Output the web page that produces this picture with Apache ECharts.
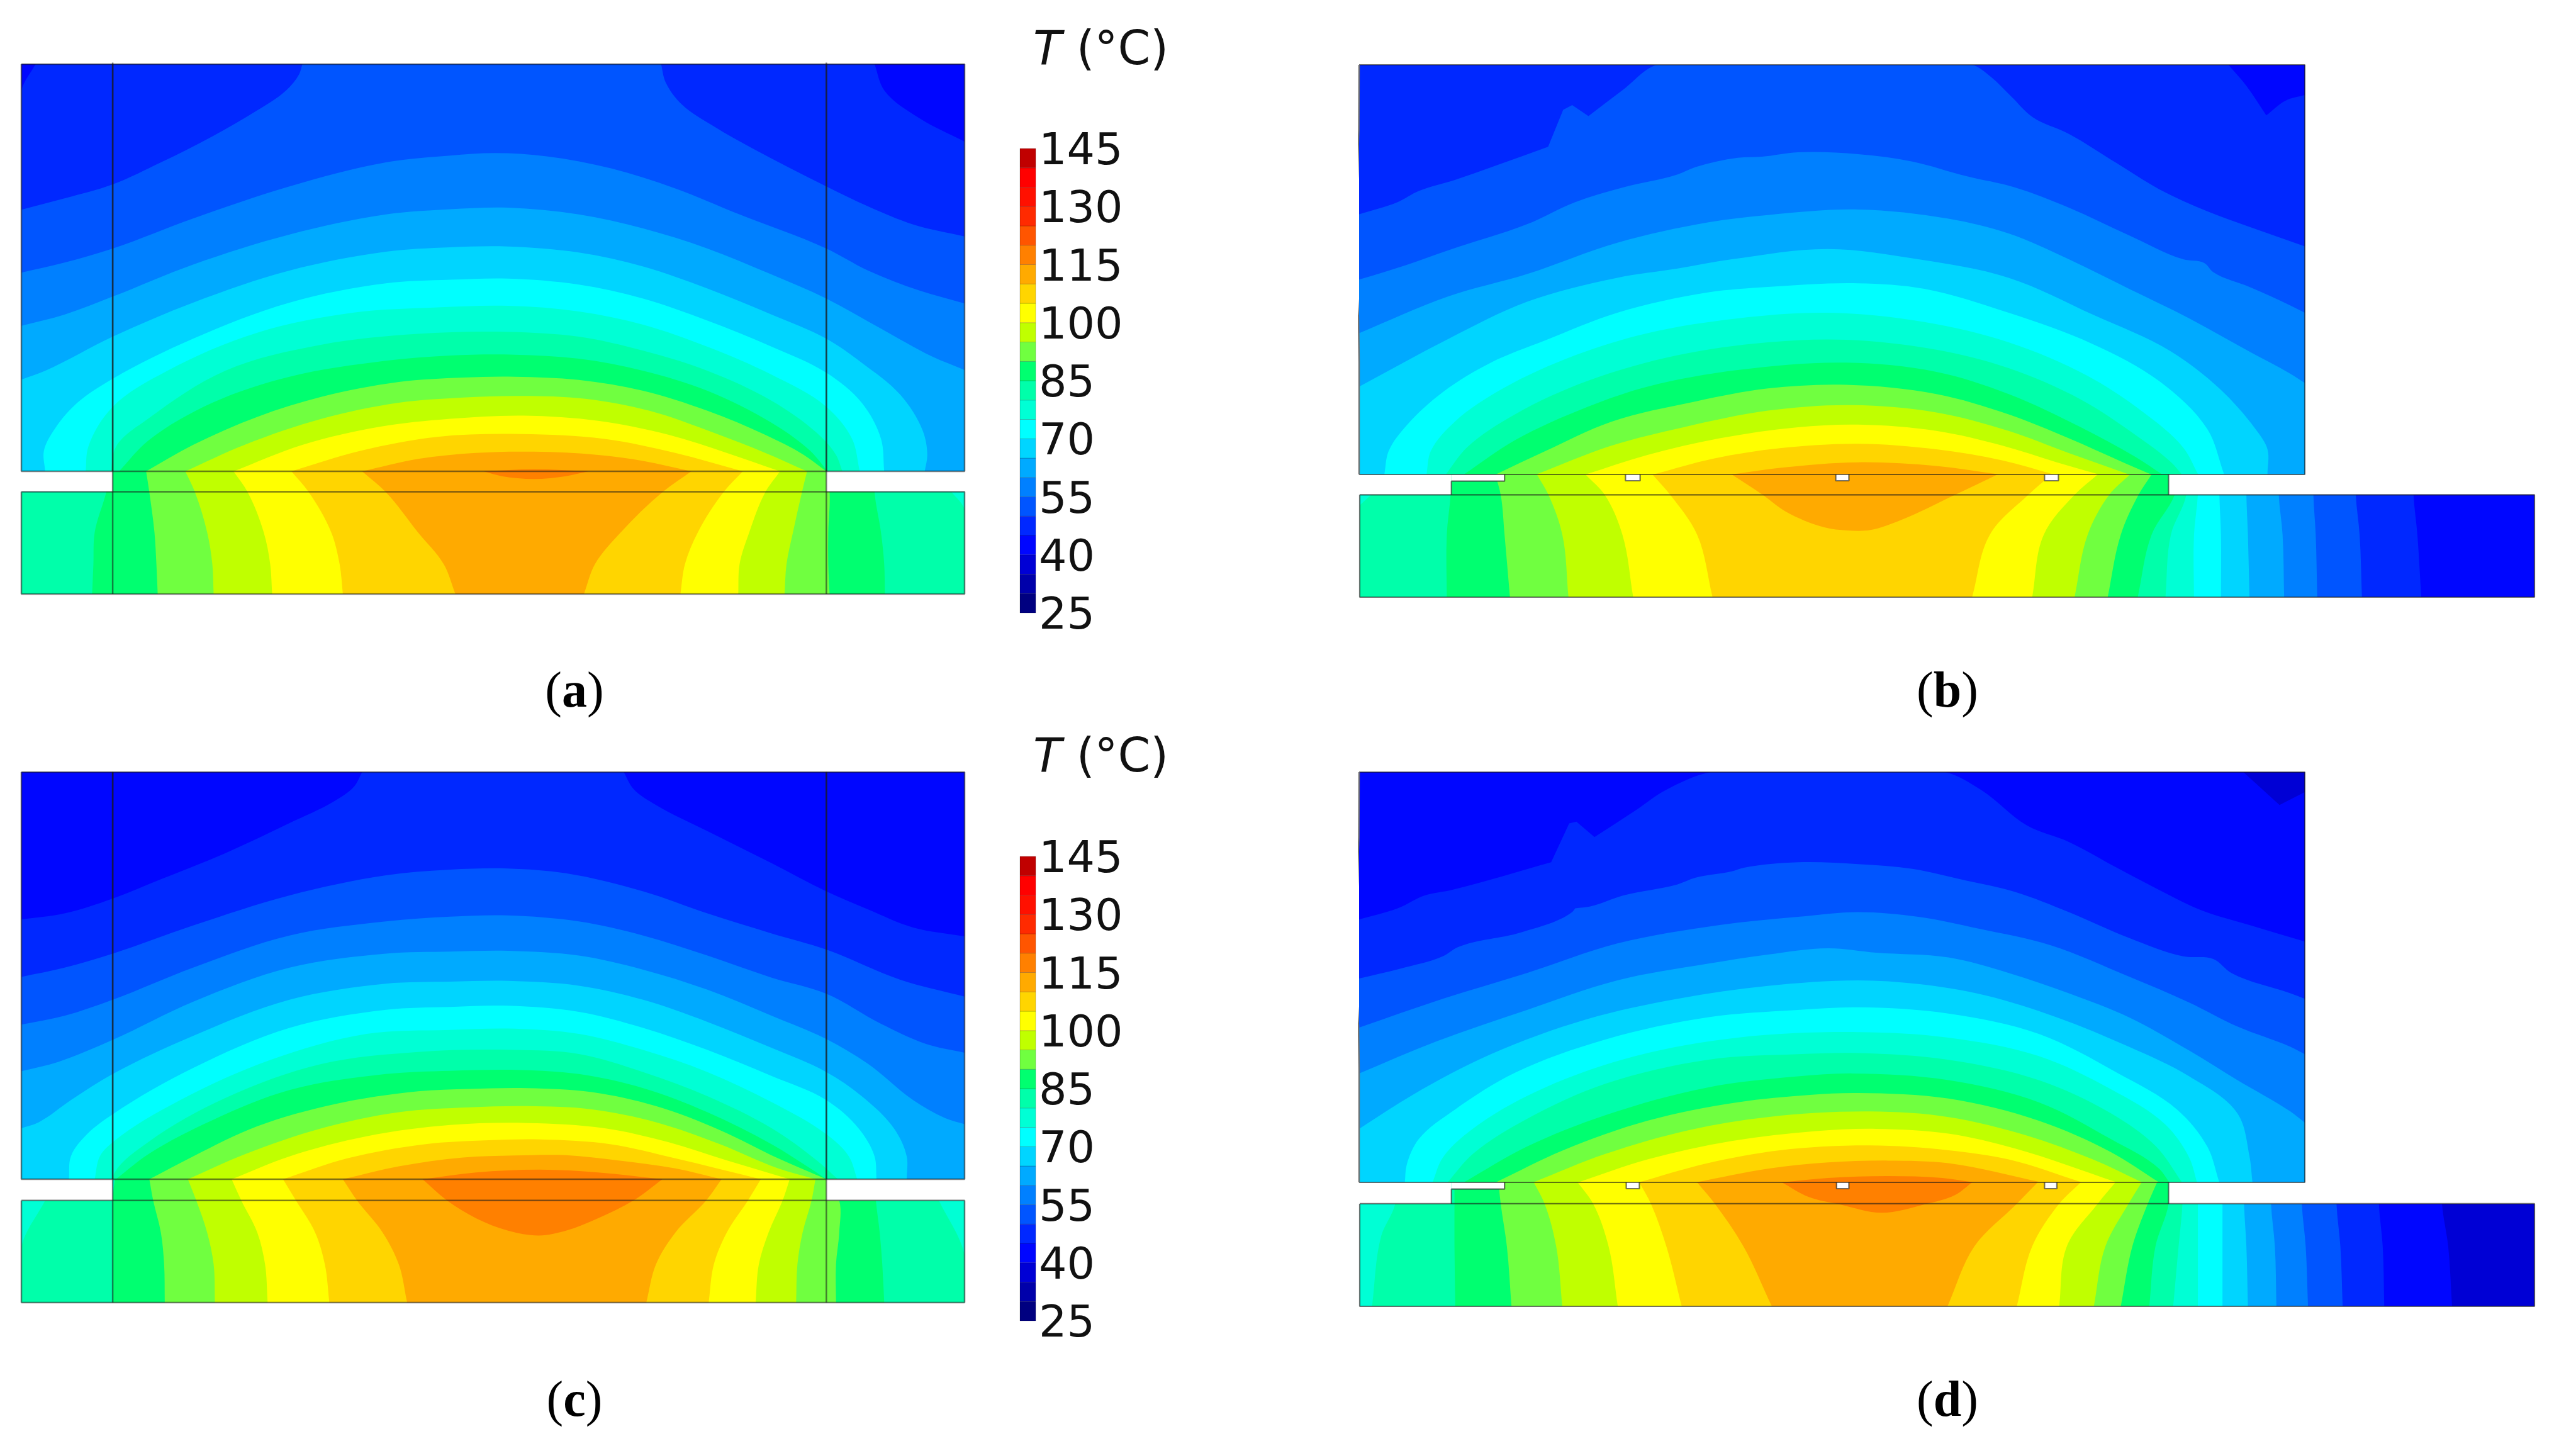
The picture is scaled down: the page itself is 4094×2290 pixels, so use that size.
<!DOCTYPE html>
<html><head><meta charset="utf-8">
<style>html,body{margin:0;padding:0;background:#fff}#c{width:4094px;height:2290px}</style>
<script src="https://cdn.jsdelivr.net/npm/echarts@6/dist/echarts.min.js"></script></head>
<body><div id="c"></div>
<script>
// ---- colour scale (5 degree bands, 25..145) ----
const bandColors=['#000080','#0000aa','#0000d5','#0006ff','#0028ff','#0055ff','#0080ff','#00aaff','#00d5ff','#00ffff','#00ffd5','#00ffaa','#00ff70','#70ff40','#c0ff00','#ffff00','#ffd500','#ffaa00','#ff8000','#ff5500','#ff2a00','#ff1000','#ff0000','#c00000'];
const scaleTicks=[25,40,55,70,85,100,115,130,145];
const panelLabels=['a','b','c','d'];

// ---- isotherms: [temperature, outline points], positions in each panel's own length units ----
const aTop=[
[45,[[33,130],[55,65],[1360,65],[1375,130],[1430,200],[1500,258]]],
[50,[[33,428],[100,400],[175,365],[250,310],[330,245],[400,180],[445,130],[465,90],[470,65],[1028,65],[1035,110],[1060,165],[1110,220],[1170,275],[1285,370],[1350,420],[1420,465],[1500,495]]],
[55,[[33,585],[100,560],[175,525],[300,450],[450,370],[600,310],[700,293],[770,287],[850,295],[950,325],[1050,375],[1150,440],[1285,525],[1350,580],[1430,630],[1500,662]]],
[60,[[33,718],[100,690],[175,645],[300,565],[450,490],[600,440],[700,427],[790,423],[900,440],[1000,475],[1100,525],[1200,590],[1285,650],[1370,725],[1450,795],[1500,828]]],
[65,[[33,852],[70,830],[175,745],[300,660],[450,580],[600,533],[700,522],[790,520],[900,535],[1000,570],[1100,625],[1200,690],[1285,750],[1340,810],[1400,890],[1435,980],[1442,1040],[1438,1081]]],
[70,[[70,1081],[68,1030],[85,975],[120,910],[175,850],[300,750],[450,660],[600,612],[700,603],[790,600],[900,615],[1000,650],[1100,705],[1200,770],[1285,835],[1340,910],[1370,1000],[1375,1081]]],
[75,[[133,1081],[137,1020],[175,920],[260,830],[400,735],[550,685],[680,672],[790,668],[900,682],[1000,715],[1100,770],[1200,840],[1285,920],[1325,1000],[1337,1081]]],
[80,[[172,1081],[180,1020],[230,950],[350,830],[500,765],[650,738],[790,733],[900,745],[1000,780],[1100,830],[1200,905],[1270,985],[1300,1040],[1310,1081]]],
[85,[[185,1081],[230,1005],[330,910],[450,845],[600,805],[700,792],[800,790],[900,800],[1000,830],[1100,880],[1200,960],[1260,1030],[1287,1081]]],
[90,[[227,1081],[300,1015],[400,945],[500,895],[620,858],[720,847],[800,845],[900,853],[1000,880],[1100,930],[1190,990],[1250,1040],[1285,1081]]],
[95,[[288,1081],[380,1015],[500,950],[620,910],[720,897],[810,893],[910,900],[1010,930],[1110,985],[1190,1035],[1255,1081]]],
[100,[[363,1081],[470,1015],[590,970],[700,950],[815,942],[930,955],[1040,990],[1130,1035],[1213,1081]]],
[105,[[453,1081],[560,1030],[680,995],[810,988],[940,1000],[1050,1035],[1155,1081]]],
[110,[[563,1081],[650,1050],[740,1035],[830,1032],[930,1040],[1000,1055],[1075,1081]]],
[115,[[752,1081],[830,1076],[915,1081]]]
];
const aRows=[1081,1133,1233,1312,1386];
const aEdges=[
[85,[172,165,147,145,143],[1360,1360,1370,1375,1376]],
[90,[227,232,240,243,245],[1285,1290,1288,1288,1290]],
[95,[288,303,322,330,332],[1255,1247,1233,1223,1220]],
[100,[363,385,410,420,423],[1213,1190,1165,1150,1148]],
[105,[453,480,515,528,533],[1155,1125,1085,1065,1058]],
[110,[563,600,650,690,708],[1075,1030,965,925,908]]
];
const aPatches=[
[80,[[33,1133],[1480,1133],[1500,1175],[1500,1386],[33,1386]]],
[115,[[752,1081],[780,1093],[830,1100],[880,1093],[915,1081]]]
];
const cTop=[
[45,[[33,410],[100,395],[175,358],[250,310],[350,245],[450,170],[520,115],[550,80],[563,43],[970,43],[985,85],[1020,125],[1100,190],[1200,270],[1285,340],[1350,385],[1420,430],[1500,452]]],
[50,[[33,553],[100,530],[175,495],[300,425],[450,350],[600,300],[700,286],[790,283],[880,295],[1000,340],[1100,395],[1200,445],[1285,485],[1400,560],[1500,602]]],
[55,[[33,672],[100,650],[175,610],[300,530],[450,450],[600,415],[700,403],[790,400],[900,415],[1000,450],[1100,500],[1200,555],[1285,595],[1370,670],[1440,720],[1500,742]]],
[60,[[33,788],[90,765],[175,710],[300,615],[450,530],[600,495],[700,490],[790,488],[900,500],[1000,535],[1100,585],[1200,650],[1285,708],[1350,770],[1420,860],[1470,905],[1500,920]]],
[65,[[33,930],[60,915],[110,860],[175,795],[300,700],[450,610],[600,570],[700,565],[790,563],[900,575],[1000,610],[1100,665],[1200,730],[1285,790],[1340,850],[1390,930],[1410,1000],[1410,1057]]],
[70,[[107,1057],[110,1000],[135,945],[175,895],[300,780],[450,680],[600,635],[700,628],[790,625],[900,640],[1000,680],[1100,735],[1200,800],[1285,860],[1335,930],[1360,1000],[1363,1057]]],
[75,[[147,1057],[155,1000],[175,965],[280,860],[420,760],[570,695],[700,685],[800,682],[900,695],[1000,735],[1100,790],[1200,865],[1285,945],[1320,1000],[1333,1057]]],
[80,[[175,1057],[178,1040],[230,965],[350,855],[500,770],[650,740],[800,735],[900,745],[1000,790],[1100,850],[1200,930],[1270,1010],[1303,1057]]],
[85,[[180,1057],[230,995],[330,910],[450,835],[600,795],[700,787],[810,785],[900,795],[1000,830],[1100,890],[1200,970],[1260,1030],[1285,1057]]],
[90,[[232,1057],[300,1000],[400,925],[520,870],[650,838],[730,832],[820,830],[920,840],[1020,875],[1120,935],[1210,1005],[1285,1057]]],
[95,[[292,1057],[380,995],[500,930],[620,890],[730,878],[820,875],[920,883],[1020,915],[1120,970],[1210,1030],[1268,1057]]],
[100,[[360,1057],[450,1000],[570,950],[700,922],[820,917],[940,930],[1040,965],[1130,1010],[1228,1057]]],
[105,[[440,1057],[540,1005],[660,970],[760,960],[840,958],[950,970],[1050,1005],[1183,1057]]],
[110,[[533,1057],[620,1025],[720,1003],[800,998],[880,997],[960,1010],[1050,1030],[1122,1057]]],
[115,[[657,1057],[740,1040],[840,1033],[930,1040],[1030,1057]]]
];
const cRows=[1057,1110,1190,1269,1364];
const cEdges=[
[85,[178,175,175,175,175],[1360,1362,1368,1372,1375]],
[90,[232,238,250,255,256],[1285,1305,1305,1300,1300]],
[95,[292,305,322,332,334],[1268,1262,1248,1240,1238]],
[100,[360,375,400,412,416],[1228,1217,1195,1180,1175]],
[105,[440,460,490,505,512],[1183,1163,1130,1110,1102]],
[110,[533,555,595,620,633],[1122,1098,1050,1020,1005]]
];
const cPatches=[
[80,[[33,1225],[70,1110],[1460,1110],[1500,1245],[1500,1364],[33,1364]]],
[115,[[657,1057],[695,1110],[740,1154],[790,1185],[838,1197],[880,1185],[930,1154],[985,1110],[1030,1057]]]
];
const bTop=[
[45,[[21,73],[1465,73],[1495,130],[1528,210],[1560,170],[1592,155]]],
[50,[[21,478],[85,445],[120,415],[180,385],[250,345],[335,295],[360,195],[375,182],[402,212],[460,140],[515,73],[1040,73],[1070,105],[1105,160],[1140,215],[1200,260],[1280,340],[1350,410],[1430,470],[1500,512],[1592,565]]],
[55,[[21,655],[100,615],[170,575],[300,505],[380,445],[460,405],[550,370],[580,350],[650,325],[690,322],[750,310],[850,315],[940,335],[1030,375],[1110,405],[1200,460],[1300,535],[1390,600],[1425,610],[1440,635],[1500,675],[1568,725],[1592,745]]],
[60,[[21,800],[170,700],[300,640],[450,555],[600,500],[700,480],[850,465],[1000,490],[1100,530],[1200,600],[1300,680],[1400,760],[1500,850],[1568,910],[1592,935]]],
[65,[[21,945],[170,815],[300,715],[450,650],[550,625],[640,600],[800,572],[950,600],[1100,650],[1240,750],[1370,850],[1450,950],[1510,1060],[1530,1115],[1530,1183]]],
[70,[[63,1183],[70,1120],[100,1050],[160,960],[240,880],[330,820],[450,745],[600,690],[700,675],[850,665],[960,680],[1100,745],[1240,830],[1350,930],[1430,1060],[1458,1183]]],
[75,[[133,1183],[140,1120],[180,1040],[260,950],[380,860],[500,800],[650,760],[800,745],[960,770],[1100,825],[1230,915],[1320,1010],[1390,1110],[1415,1183]]],
[80,[[165,1183],[200,1110],[280,1020],[400,930],[550,860],[700,825],[830,818],[980,845],[1100,895],[1220,980],[1310,1075],[1370,1150],[1388,1183]]],
[85,[[195,1183],[280,1090],[400,1000],[500,945],[650,900],[830,880],[980,905],[1100,965],[1220,1055],[1310,1135],[1355,1183]]],
[90,[[248,1183],[330,1120],[440,1040],[580,985],[700,950],[830,940],[980,965],[1100,1020],[1200,1085],[1290,1150],[1337,1183]]],
[95,[[315,1183],[440,1105],[560,1055],[700,1010],[840,995],[980,1015],[1100,1065],[1200,1125],[1300,1183]]],
[100,[[397,1183],[500,1130],[620,1085],[750,1055],[850,1048],[980,1065],[1090,1105],[1180,1150],[1250,1183]]],
[105,[[510,1183],[610,1140],[720,1112],[850,1100],[980,1115],[1090,1145],[1175,1183]]],
[110,[[640,1183],[720,1165],[850,1150],[980,1160],[1085,1183]]]
];
const bRows=[313,410,600,898];
const bEdges=[
[45,[17,17,17,17],[1385,1385,1390,1395]],
[50,[17,17,17,17],[1310,1310,1315,1318]],
[55,[17,17,17,17],[1255,1255,1258,1260]],
[60,[17,17,17,17],[1210,1210,1215,1217]],
[65,[17,17,17,17],[1168,1168,1170,1172]],
[70,[17,17,17,17],[1133,1133,1135,1135]],
[75,[17,17,17,17],[1105,1105,1100,1100]],
[85,[136,135,130,130],[1080,1075,1045,1027]],
[90,[193,200,205,212],[1045,1028,1005,988]],
[95,[247,262,280,288],[1017,990,962,945]],
[100,[310,335,358,372],[975,945,905,890]],
[105,[397,420,455,475],[915,885,835,812]]
];
const bPatches=[
[80,[[32,410],[17,460],[17,898],[1063,898],[1070,600],[1090,410],[1090,313],[32,313]]],
[110,[[500,313],[540,410],[570,490],[620,565],[650,580],[680,578],[720,530],[790,410],[845,313]]]
];
const dTop=[
[40,[[21,46],[1490,46],[1550,135],[1592,100]]],
[45,[[21,445],[85,415],[130,380],[175,365],[340,290],[370,185],[382,180],[412,222],[480,150],[530,95],[605,46],[995,46],[1055,95],[1130,190],[1200,235],[1280,305],[1350,365],[1420,420],[1500,460],[1592,505]]],
[50,[[21,605],[90,578],[160,545],[185,520],[290,480],[375,425],[380,415],[405,410],[460,380],[550,350],[580,332],[640,315],[660,305],[750,290],[850,295],[940,308],[1030,340],[1110,370],[1200,425],[1300,495],[1390,545],[1440,552],[1470,590],[1568,645],[1592,660]]],
[55,[[21,738],[160,660],[300,590],[450,510],[620,460],[750,438],[850,425],[950,438],[1050,470],[1170,515],[1300,600],[1400,670],[1480,735],[1568,790],[1592,810]]],
[60,[[21,862],[150,775],[300,690],[450,610],[600,565],[700,540],[800,523],[880,535],[1000,548],[1100,590],[1200,645],[1300,710],[1400,800],[1480,880],[1568,965],[1592,995]]],
[65,[[21,1012],[110,920],[240,810],[400,715],[550,660],[700,625],[850,610],[950,620],[1060,650],[1180,710],[1300,790],[1400,870],[1480,970],[1500,1085],[1505,1157]]],
[70,[[97,1157],[100,1110],[120,1040],[180,960],[280,860],[430,770],[600,710],[750,690],[850,683],[1000,700],[1150,755],[1280,860],[1380,960],[1430,1060],[1450,1157]]],
[75,[[143,1157],[160,1090],[220,1000],[330,900],[480,815],[650,765],[850,750],[1000,765],[1150,815],[1270,905],[1360,1000],[1400,1090],[1413,1157]]],
[80,[[168,1157],[210,1080],[300,985],[430,890],[600,825],[750,810],[850,807],[1000,825],[1150,880],[1270,970],[1345,1060],[1388,1157]]],
[85,[[195,1157],[300,1060],[430,975],[600,900],[750,870],[840,862],[1000,880],[1150,940],[1270,1040],[1350,1120],[1367,1157]]],
[90,[[248,1157],[360,1070],[500,990],[650,940],[770,920],[850,915],[1000,930],[1150,990],[1270,1075],[1350,1157]]],
[95,[[310,1157],[430,1080],[570,1015],[700,980],[870,965],[1000,980],[1130,1030],[1240,1095],[1322,1157]]],
[100,[[385,1157],[500,1095],[640,1045],[780,1018],[880,1012],[1000,1025],[1110,1065],[1280,1157]]],
[105,[[485,1157],[600,1105],[720,1070],[870,1057],[1000,1070],[1100,1095],[1222,1157]]],
[110,[[580,1157],[700,1120],[800,1103],[900,1098],[1000,1105],[1155,1157]]],
[115,[[722,1157],[800,1145],[900,1140],[990,1145],[1043,1157]]]
];
const dRows=[295,397,600,887];
const dEdges=[
[40,[17,17,17,17],[1422,1422,1430,1435]],
[45,[17,17,17,17],[1340,1340,1345,1347]],
[50,[17,17,17,17],[1285,1285,1290,1293]],
[55,[17,17,17,17],[1240,1240,1245,1248]],
[60,[17,17,17,17],[1200,1200,1205,1207]],
[65,[17,17,17,17],[1165,1165,1168,1170]],
[70,[17,17,17,17],[1137,1137,1137,1137]],
[75,[17,17,17,17],[1105,1105,1105,1105]],
[85,[140,140,140,141],[1067,1067,1050,1042]],
[90,[197,200,208,214],[1052,1040,1020,1005]],
[95,[243,257,272,280],[1032,1015,985,970]],
[100,[300,320,340,352],[998,975,935,925]],
[105,[380,395,415,435],[953,925,890,870]],
[110,[455,478,515,552],[897,870,815,780]]
];
const dPatches=[
[80,[[63,397],[45,550],[33,887],[1073,887],[1080,600],[1085,397],[1085,295],[63,295]]],
[115,[[565,295],[600,365],[640,400],[695,440],[750,400],[790,355],[812,295]]]
];
// ---- body geometry: gaps between the plates, frame lines ----
const aGaps=[[33,1081,175,1132],[1285,1081,1500,1132]];
const cGaps=[[33,1057,175,1110],[1285,1057,1500,1110]];
const bGaps=[[17,313,136,410],[136,313,205,345],[1067,313,1542,410],[362,313,381,343],[635,313,652,343],[906,313,924,343]];
const dGaps=[[17,295,136,397],[136,295,205,327],[1067,295,1542,397],[363,295,380,325],[636,295,652,325],[906,295,922,325]];
const aFrames=[[[33,65],[1500,65],[1500,1081],[33,1081],[33,65]],[[33,1132],[1500,1132],[1500,1386],[33,1386],[33,1132]],[[175,65],[175,1386]],[[1285,65],[1285,1386]]];
const cFrames=[[[33,43],[1500,43],[1500,1057],[33,1057],[33,43]],[[33,1110],[1500,1110],[1500,1364],[33,1364],[33,1110]],[[175,43],[175,1364]],[[1285,43],[1285,1364]]];
const bTopFrames=[[[21,73],[1592,73],[1592,1183],[21,1183]],[[21,73],[20.5,250],[18,370],[14,500],[13.5,560],[15,650],[20,760],[21,880],[21,1183]]];
const dTopFrames=[[[21,46],[1592,46],[1592,1157],[21,1157]],[[21,46],[20.5,223],[18,343],[14,473],[13.5,533],[15,623],[20,733],[21,853],[21,1157]]];
const bLowFrames=[[[17,410],[1542,410],[1542,898],[17,898],[17,410]],[[136,410],[136,345],[205,345],[205,313]],[[1067,313],[1067,410]],[[362,313],[362,343],[381,343],[381,313]],[[635,313],[635,343],[652,343],[652,313]],[[906,313],[906,343],[924,343],[924,313]]];
const dLowFrames=[[[17,397],[1542,397],[1542,887],[17,887],[17,397]],[[136,397],[136,327],[205,327],[205,295]],[[1067,295],[1067,397]],[[363,295],[363,325],[380,325],[380,295]],[[636,295],[636,325],[652,325],[652,295]],[[906,295],[906,325],[922,325],[922,295]]];

// ---- helpers ----
const colorOf=l=>bandColors[Math.round((l-25)/5)];
function edgesToPolys(rows,edges){
  return edges.map(([l,left,right])=>{
    const pts=[];
    for(let i=rows.length-1;i>=0;i--)pts.push([left[i],rows[i]]);
    for(let i=0;i<rows.length;i++)pts.push([right[i],rows[i]]);
    return [l,pts];
  });
}
function pathOf(px,smooth){
  const n=px.length,unit=(a,b)=>{const x=b[0]-a[0],y=b[1]-a[1],m=Math.hypot(x,y)||1;return [x/m,y/m];};
  const info=px.map((p,i)=>{
    const d1=unit(px[(i+n-1)%n],p),d2=unit(p,px[(i+1)%n]);
    const corner=!smooth||(d1[0]*d2[0]+d1[1]*d2[1])<0.77;
    return {corner,t:unit([0,0],[d1[0]+d2[0],d1[1]+d2[1]])};
  });
  let s='M'+px[0][0]+' '+px[0][1];
  for(let i=0;i<n;i++){
    const j=(i+1)%n,p=px[i],q=px[j],L=Math.hypot(q[0]-p[0],q[1]-p[1]);
    if(info[i].corner&&info[j].corner){s+='L'+q[0]+' '+q[1];continue;}
    const d=unit(p,q),ti=info[i].corner?d:info[i].t,tj=info[j].corner?d:info[j].t;
    s+='C'+(p[0]+ti[0]*L/3)+' '+(p[1]+ti[1]*L/3)+' '+(q[0]-tj[0]*L/3)+' '+(q[1]-tj[1]*L/3)+' '+q[0]+' '+q[1];
  }
  return s+'Z';
}
const grids=[],xAxes=[],yAxes=[],series=[];
function addGrid(left,top,right,bottom,x0,x1,y0,y1){
  grids.push({left,top,width:right-left,height:bottom-top,containLabel:false});
  const i=grids.length-1;
  xAxes.push({type:'value',gridIndex:i,min:x0,max:x1,show:false});
  yAxes.push({type:'value',gridIndex:i,min:y0,max:y1,inverse:true,show:false});
  return i;
}
function contourSeries(g,base,polys,closeDown,smooth){
  const ax=xAxes[g],ay=yAxes[g];
  const list=[[base,null]].concat(polys.slice().sort((p,q)=>p[0]-q[0]));
  series.push({type:'custom',coordinateSystem:'cartesian2d',xAxisIndex:g,yAxisIndex:g,clip:true,silent:true,z:2,animation:false,
    data:list.map(e=>[e[0]]),
    renderItem(params,api){
      const [l,pts]=list[params.dataIndex];
      let src=pts;
      if(!src)src=[[ax.min,ay.min],[ax.max,ay.min],[ax.max,ay.max],[ax.min,ay.max]];
      else if(closeDown)src=pts.concat([[pts[pts.length-1][0],ay.max],[pts[0][0],ay.max]]);
      return {type:'path',shape:{pathData:pathOf(src.map(p=>api.coord(p)),smooth&&!!pts)},style:{fill:colorOf(l),stroke:null}};
    }});
}
function gapSeries(g,gaps){
  series.push({type:'custom',coordinateSystem:'cartesian2d',xAxisIndex:g,yAxisIndex:g,clip:false,silent:true,z:3,animation:false,
    data:gaps.map(r=>r.slice()),
    renderItem(params,api){
      const a=api.coord([api.value(0),api.value(1)]),b=api.coord([api.value(2),api.value(3)]);
      return {type:'rect',shape:{x:a[0],y:a[1],width:b[0]-a[0],height:b[1]-a[1]},style:{fill:'#fff'}};
    }});
}
function frameSeries(g,frames,color,w){
  frames.forEach(f=>series.push({type:'line',xAxisIndex:g,yAxisIndex:g,data:f,symbol:'none',showSymbol:false,clip:false,silent:true,z:4,animation:false,lineStyle:{color,width:w}}));
}
function panel(box,split,lowBox,top,rows,edges,patches,gaps,base,lowBase){
  const ug=addGrid(box.l,box.t,box.r,split.real,box.x0,box.x1,box.y0,split.y);
  contourSeries(ug,base,top,true,true);
  const lg=addGrid(lowBox.l,split.real,lowBox.r,lowBox.b,lowBox.x0,lowBox.x1,lowBox.y0,lowBox.y1);
  contourSeries(lg,lowBase,edgesToPolys(rows,edges).concat(patches),false,true);
  gapSeries(lg,gaps);
  return [ug,lg];
}
const line='rgba(25,25,25,0.55)';
// panel (a)
let g=panel({l:34,t:102,r:1533,x0:33,x1:1500,y0:65},{y:1081,real:749},{l:34,r:1533,b:944,x0:33,x1:1500,y0:1081,y1:1386},aTop,aRows,aEdges,aPatches,aGaps,40,75);
frameSeries(g[1],aFrames.slice(1),line,2.5);frameSeries(g[0],aFrames.slice(0,1),line,2.5);
frameSeries(g[0],[[[175,65],[175,1081]],[[1285,65],[1285,1081]]],line,2.5);
// panel (b)
g=panel({l:2160,t:103,r:3663,x0:21,x1:1592,y0:73},{y:1183,real:754},{l:2161,r:4028,b:949,x0:17,x1:1542,y0:313,y1:898},bTop,bRows,bEdges,bPatches,bGaps,40,40);
frameSeries(g[0],[bTopFrames[0]],'rgba(25,25,25,0.6)',2.2);frameSeries(g[0],[bTopFrames[1]],'rgba(110,110,110,0.95)',2.5);frameSeries(g[1],bLowFrames,'rgba(25,25,25,0.6)',2.2);
// panel (c)
g=panel({l:34,t:1227,r:1533,x0:33,x1:1500,y0:43},{y:1057,real:1874},{l:34,r:1533,b:2070,x0:33,x1:1500,y0:1057,y1:1364},cTop,cRows,cEdges,cPatches,cGaps,40,75);
frameSeries(g[1],cFrames.slice(1),line,2.5);frameSeries(g[0],cFrames.slice(0,1),line,2.5);
frameSeries(g[0],[[[175,43],[175,1057]],[[1285,43],[1285,1057]]],line,2.5);
// panel (d)
g=panel({l:2160,t:1227,r:3663,x0:21,x1:1592,y0:46},{y:1157,real:1879},{l:2161,r:4028,b:2076,x0:17,x1:1542,y0:295,y1:887},dTop,dRows,dEdges,dPatches,dGaps,35,35);
frameSeries(g[0],[dTopFrames[0]],'rgba(25,25,25,0.6)',2.2);frameSeries(g[0],[dTopFrames[1]],'rgba(110,110,110,0.95)',2.5);frameSeries(g[1],dLowFrames,'rgba(25,25,25,0.6)',2.2);
// colour bars: the swatches on one grid, the scale labels on a grid set just below it
[236,1361].forEach(top=>{
  const i=grids.length;
  grids.push({left:1621,top,width:25,height:738,containLabel:false});
  xAxes.push({type:'value',gridIndex:i,min:0,max:1,show:false});
  yAxes.push({type:'value',gridIndex:i,min:25,max:145,show:false});
  series.push({type:'custom',coordinateSystem:'cartesian2d',xAxisIndex:i,yAxisIndex:i,silent:true,z:2,animation:false,
    data:bandColors.map((c,k)=>[25+k*5]),
    renderItem(params,api){
      const lo=api.value(0),a=api.coord([0,lo+5]),b=api.coord([1,lo]);
      return {type:'rect',shape:{x:a[0],y:a[1],width:b[0]-a[0],height:b[1]-a[1]},style:{fill:colorOf(lo),stroke:'rgba(0,0,0,0.18)',lineWidth:1}};
    }});
  const j=grids.length;
  grids.push({left:1621,top:top+7,width:25,height:738,containLabel:false});
  xAxes.push({type:'value',gridIndex:j,min:0,max:1,show:false});
  yAxes.push({type:'value',gridIndex:j,min:25,max:145,position:'right',axisLine:{show:false},axisTick:{show:false},splitLine:{show:false},
    axisLabel:{show:true,customValues:scaleTicks,margin:5,fontFamily:'DejaVu Sans',fontSize:70,color:'#111'}});
});
const titles=[];
const normal={fontWeight:'normal'};
[78,1202].forEach(y=>titles.push({text:'{i|T}{n| (°C)}',left:1637,top:y,textVerticalAlign:'middle',textStyle:{fontWeight:'normal',rich:{i:{...normal,fontFamily:'DejaVu Sans',fontStyle:'italic',fontSize:74,color:'#111'},n:{...normal,fontFamily:'DejaVu Sans',fontSize:74,color:'#111'}}}}));
[[908,1097],[3090,1097],[908,2224],[3090,2224]].forEach(([x,y],k)=>titles.push({text:'{p|(}{b|'+panelLabels[k]+'}{p|)}',left:x,top:y,textAlign:'center',textVerticalAlign:'middle',textStyle:{fontWeight:'normal',rich:{p:{...normal,fontFamily:'Liberation Serif',fontSize:80,color:'#000'},b:{fontFamily:'Liberation Serif',fontWeight:'bold',fontSize:80,color:'#000'}}}}));
const chart=echarts.init(document.getElementById('c'),null,{renderer:'canvas'});
chart.setOption({animation:false,backgroundColor:'#fff',title:titles,grid:grids,xAxis:xAxes,yAxis:yAxes,series});
</script></body></html>
